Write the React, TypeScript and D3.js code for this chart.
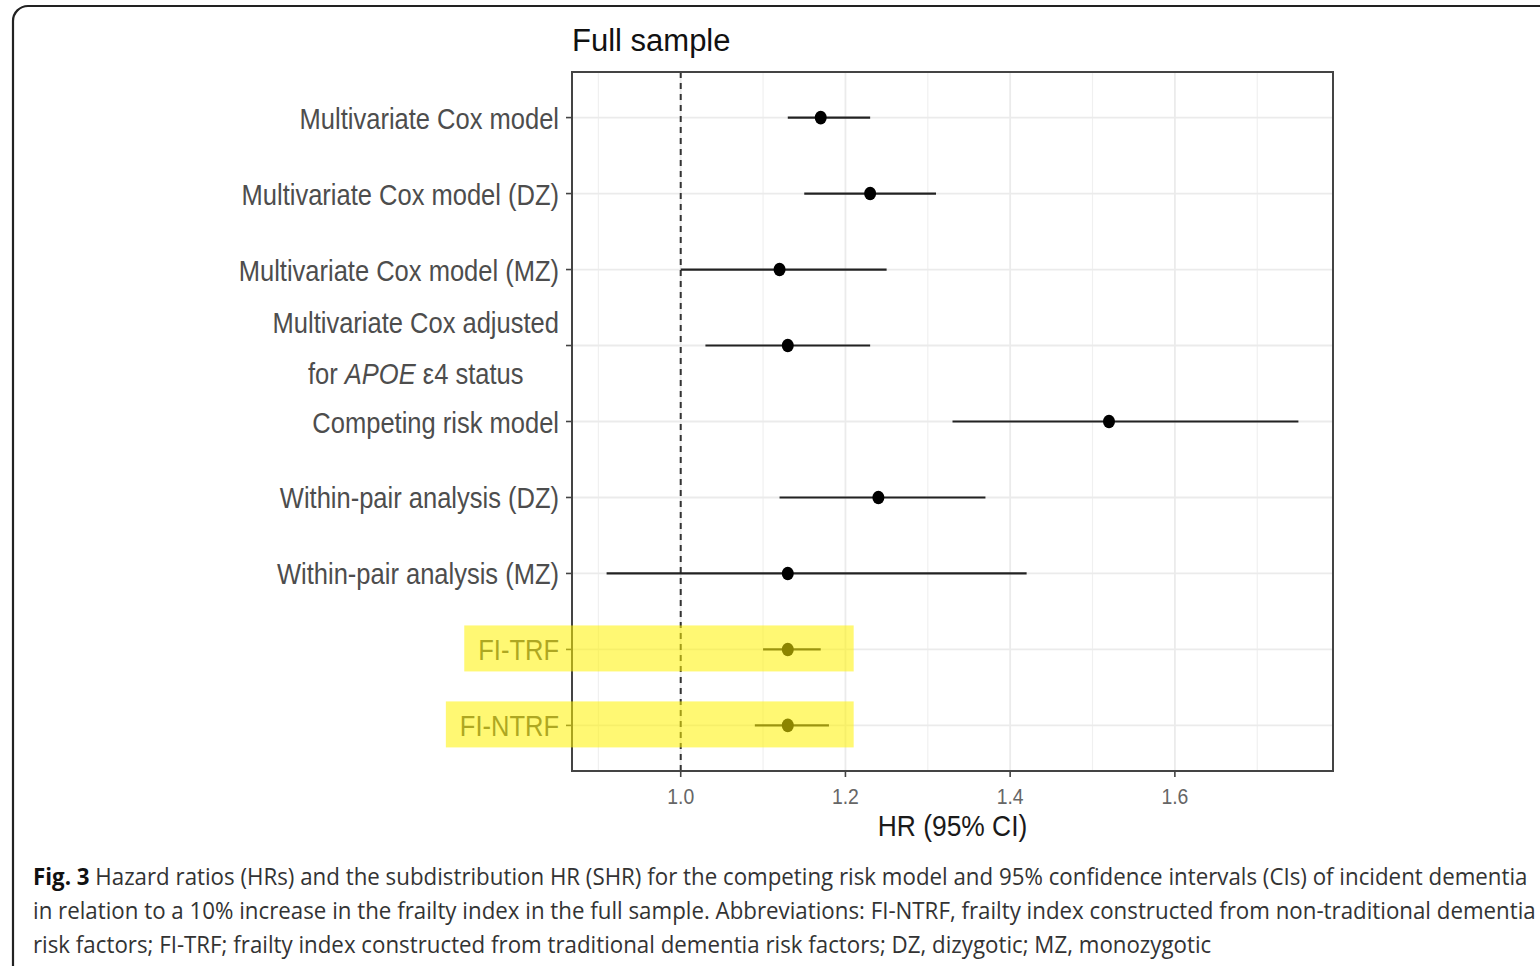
import React, { useEffect, useRef } from "react";
import * as d3 from "d3";

// Models compared in the forest plot, top to bottom
const models = [
  "Multivariate Cox model",
  "Multivariate Cox model (DZ)",
  "Multivariate Cox model (MZ)",
  "APOE",
  "Competing risk model",
  "Within-pair analysis (DZ)",
  "Within-pair analysis (MZ)",
  "FI-TRF",
  "FI-NTRF",
];
// Hazard ratio point estimates and 95% CI bounds
const hr = [1.17, 1.23, 1.12, 1.13, 1.52, 1.24, 1.13, 1.13, 1.13];
const lower = [1.13, 1.15, 1.0, 1.03, 1.33, 1.12, 0.91, 1.1, 1.09];
const upper = [1.23, 1.31, 1.25, 1.23, 1.75, 1.37, 1.42, 1.17, 1.18];
const xTicks = [1.0, 1.2, 1.4, 1.6];
const highlighted = ["FI-TRF", "FI-NTRF"];
const highlightEnd = 1.21;

const captionLines = [
  "Hazard ratios (HRs) and the subdistribution HR (SHR) for the competing risk model and 95% confidence intervals (CIs) of incident dementia",
  "in relation to a 10% increase in the frailty index in the full sample. Abbreviations: FI-NTRF, frailty index constructed from non-traditional dementia",
  "risk factors; FI-TRF; frailty index constructed from traditional dementia risk factors; DZ, dizygotic; MZ, monozygotic",
];

const W = 1540;
const H = 966;
const panel = { left: 572, right: 1333, top: 72, bottom: 771 };
const SANS = "'Liberation Sans', Arial, sans-serif";
const SX = 0.88; // horizontal condensing of axis text
const textGrey = "#4d4d4d";

export default function App() {
  const ref = useRef<SVGSVGElement | null>(null);

  useEffect(() => {
    document.body.style.margin = "0";
    document.body.style.overflow = "hidden";
    const svg = d3.select(ref.current);
    svg.selectAll("*").remove();

    const lo = d3.min(lower)!;
    const hi = d3.max(upper)!;
    const pad = (hi - lo) * 0.05;
    const x = d3.scaleLinear().domain([lo - pad, hi + pad]).range([panel.left, panel.right]);
    const y = d3.scalePoint<string>().domain(models).range([panel.top, panel.bottom]).padding(0.6);

    svg.append("rect").attr("width", W).attr("height", H).attr("fill", "#fff");

    // outer card frame with rounded corner
    svg
      .append("rect")
      .attr("x", 13)
      .attr("y", 6)
      .attr("width", 1700)
      .attr("height", 1100)
      .attr("rx", 15)
      .attr("fill", "none")
      .attr("stroke", "#222")
      .attr("stroke-width", 2.2);

    // grid
    const g = svg.append("g");
    const minorTicks = d3.range(0.9, 1.8, 0.2).map((v) => +v.toFixed(2)).filter((v) => x(v) < panel.right);
    g.selectAll("line.minor")
      .data(minorTicks)
      .join("line")
      .attr("x1", (d) => x(d))
      .attr("x2", (d) => x(d))
      .attr("y1", panel.top)
      .attr("y2", panel.bottom)
      .attr("stroke", "#f0f0f0")
      .attr("stroke-width", 1.2);
    g.selectAll("line.major")
      .data(xTicks)
      .join("line")
      .attr("x1", (d) => x(d))
      .attr("x2", (d) => x(d))
      .attr("y1", panel.top)
      .attr("y2", panel.bottom)
      .attr("stroke", "#ebebeb")
      .attr("stroke-width", 1.8);
    g.selectAll("line.hgrid")
      .data(models)
      .join("line")
      .attr("x1", panel.left)
      .attr("x2", panel.right)
      .attr("y1", (d) => y(d)!)
      .attr("y2", (d) => y(d)!)
      .attr("stroke", "#ebebeb")
      .attr("stroke-width", 1.8);

    // reference line at HR = 1
    g.append("line")
      .attr("x1", x(1))
      .attr("x2", x(1))
      .attr("y1", panel.top)
      .attr("y2", panel.bottom)
      .attr("stroke", "#333")
      .attr("stroke-width", 2)
      .attr("stroke-dasharray", "6,5");

    // confidence intervals and point estimates
    const rows = models.map((m, i) => ({ m, hr: hr[i], lo: lower[i], hi: upper[i] }));
    g.selectAll("line.ci")
      .data(rows)
      .join("line")
      .attr("x1", (d) => x(d.lo))
      .attr("x2", (d) => x(d.hi))
      .attr("y1", (d) => y(d.m)!)
      .attr("y2", (d) => y(d.m)!)
      .attr("stroke", "#222")
      .attr("stroke-width", 2.2);
    g.selectAll("ellipse.pt")
      .data(rows)
      .join("ellipse")
      .attr("cx", (d) => x(d.hr))
      .attr("cy", (d) => y(d.m)!)
      .attr("rx", 6)
      .attr("ry", 6.8)
      .attr("fill", "#000");

    // panel border
    svg
      .append("rect")
      .attr("x", panel.left)
      .attr("y", panel.top)
      .attr("width", panel.right - panel.left)
      .attr("height", panel.bottom - panel.top)
      .attr("fill", "none")
      .attr("stroke", "#444")
      .attr("stroke-width", 2);

    // y axis ticks and labels
    const labelRight = panel.left - 13;
    svg
      .selectAll("line.ytick")
      .data(models)
      .join("line")
      .attr("x1", panel.left - 6)
      .attr("x2", panel.left)
      .attr("y1", (d) => y(d)!)
      .attr("y2", (d) => y(d)!)
      .attr("stroke", "#444")
      .attr("stroke-width", 1.6);

    const labelWidths: Record<string, number> = {};
    models.forEach((m) => {
      const yy = y(m)!;
      if (m === "APOE") {
        const grp = svg.append("g");
        const t1 = grp
          .append("text")
          .attr("font-family", SANS)
          .attr("font-size", 29)
          .attr("fill", textGrey)
          .attr("text-anchor", "middle")
          .attr("y", -13)
          .text("Multivariate Cox adjusted");
        const t2 = grp
          .append("text")
          .attr("font-family", SANS)
          .attr("font-size", 29)
          .attr("fill", textGrey)
          .attr("text-anchor", "middle")
          .attr("y", 38);
        t2.append("tspan").text("for ");
        t2.append("tspan").attr("font-style", "italic").text("APOE");
        t2.append("tspan").text(" \u03b54 status");
        const w1 = (t1.node() as SVGTextElement).getComputedTextLength() * SX;
        grp.attr("transform", `translate(${labelRight - w1 / 2},${yy}) scale(${SX},1)`);
      } else {
        const t = svg
          .append("text")
          .attr("font-family", SANS)
          .attr("font-size", 29)
          .attr("fill", textGrey)
          .attr("text-anchor", "end")
          .attr("transform", `translate(${labelRight},${yy + 11}) scale(${SX},1)`)
          .text(m);
        labelWidths[m] = (t.node() as SVGTextElement).getComputedTextLength() * SX;
      }
    });

    // x axis ticks, labels and title
    svg
      .selectAll("line.xtick")
      .data(xTicks)
      .join("line")
      .attr("x1", (d) => x(d))
      .attr("x2", (d) => x(d))
      .attr("y1", panel.bottom)
      .attr("y2", panel.bottom + 6)
      .attr("stroke", "#444")
      .attr("stroke-width", 1.6);
    svg
      .selectAll("text.xtick")
      .data(xTicks)
      .join("text")
      .attr("font-family", SANS)
      .attr("font-size", 22)
      .attr("fill", "#666")
      .attr("text-anchor", "middle")
      .attr("transform", (d) => `translate(${x(d)},804) scale(${SX},1)`)
      .text((d) => d3.format(".1f")(d));
    svg
      .append("text")
      .attr("font-family", SANS)
      .attr("font-size", 30)
      .attr("fill", "#1a1a1a")
      .attr("text-anchor", "middle")
      .attr("transform", `translate(${(panel.left + panel.right) / 2},836) scale(${SX},1)`)
      .text("HR (95% CI)");

    // title
    svg
      .append("text")
      .attr("font-family", SANS)
      .attr("font-size", 31)
      .attr("fill", "#111")
      .attr("x", panel.left)
      .attr("y", 51)
      .text("Full sample");

    // highlighter marks over the frailty index rows
    highlighted.forEach((m) => {
      const yy = y(m)!;
      const left = labelRight - labelWidths[m] - 14;
      svg
        .append("rect")
        .attr("x", left)
        .attr("y", yy - 24)
        .attr("width", x(highlightEnd) - left)
        .attr("height", 46)
        .attr("fill", "#fff200")
        .attr("fill-opacity", 0.55);
    });

    // figure caption
    const CAP = "'Open Sans', 'Noto Sans', sans-serif";
    captionLines.forEach((line, i) => {
      const t = svg
        .append("text")
        .attr("font-family", CAP)
        .attr("font-size", 23)
        .attr("fill", "#333")
        .attr("transform", `translate(33,${885 + i * 34}) scale(0.97,1)`);
      if (i === 0) {
        t.append("tspan").attr("font-weight", "bold").attr("fill", "#111").text("Fig. 3 ");
      }
      t.append("tspan").text(line);
    });
  }, []);

  return <svg ref={ref} width={W} height={H} style={{ display: "block" }} />;
}
